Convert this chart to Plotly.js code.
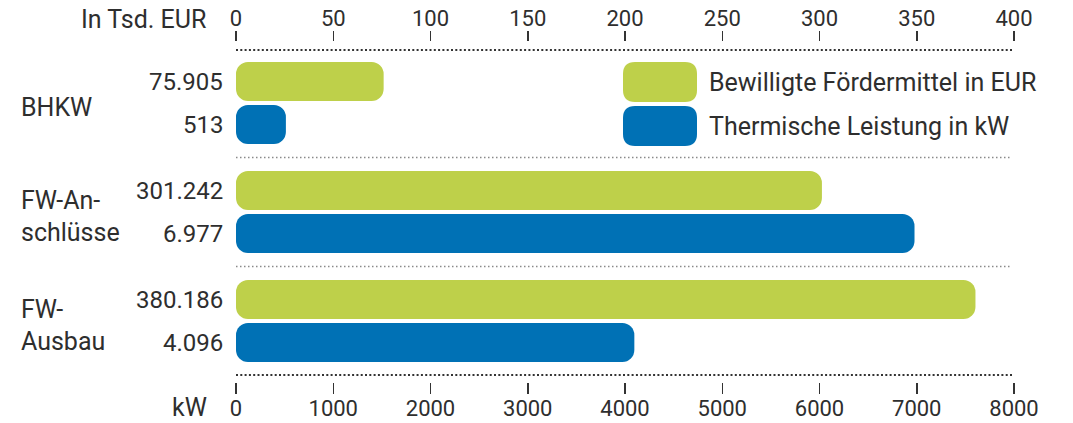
<!DOCTYPE html>
<html>
<head>
<meta charset="utf-8">
<script src="https://cdn.plot.ly/plotly-3.0.1.min.js"></script>
<style>
  html, body { margin: 0; padding: 0; background: #fff; }
  #chart { width: 1073px; height: 423px; }
</style>
</head>
<body>
<div id="chart"></div>
<script>
// Förderprogramm: bewilligte Mittel und thermische Leistung je Maßnahme
const categories = ["BHKW", "FW-An-<br>schlüsse", "FW-<br>Ausbau"];
const foerdermittelEUR = [75905, 301242, 380186];   // in EUR
const leistungKW = [513, 6977, 4096];                // in kW
const eurTicks = [0, 50, 100, 150, 200, 250, 300, 350, 400];
const kwTicks = [0, 1000, 2000, 3000, 4000, 5000, 6000, 7000, 8000];
const seriesNames = ["Bewilligte Fördermittel in EUR", "Thermische Leistung in kW"];
const axisTitleTop = "In Tsd. EUR";
const axisTitleBottom = "kW";

const GREEN = "#bed04a";
const BLUE = "#0071b5";
const TEXT = "#2e2e2e";
const FONT = "Roboto, 'DejaVu Sans', sans-serif";
const FS_TICK = 22;    // axis numbers
const FS_VALUE = 24;   // numbers next to the bars
const FS_WORD = 25;    // category names, legend, axis titles

// plot frame in pixels
const W = 1073, H = 423;
const M = { l: 236, r: 59, t: 42, b: 41 };
const PW = W - M.l - M.r, PH = H - M.t - M.b;
const px = x => (x - M.l) / PW;           // pixel x -> paper
const py = y => (H - M.b - y) / PH;       // pixel y -> paper

// vertical layout: one category = STEP px, bars BAR px high, GAP px apart
const STEP = 109, BAR = 39, GAP = 4;
const pad = (PH - STEP * (categories.length - 1)) / 2;   // px above first / below last group
const yIdx = categories.map((c, i) => i);
const barW = BAR / STEP;
const offGreen = -(BAR + GAP / 2) / STEP, offBlue = (GAP / 2) / STEP;
const radius = 12;

const fmtDE = v => String(v).replace(/\B(?=(\d{3})+(?!\d))/g, ".");
const eurTsd = foerdermittelEUR.map(v => v / 1000);

// an explicit base makes the corner radius apply to both ends of a bar
function roundedBars(vals, xaxis, color, offset) {
  return {
    type: "bar", orientation: "h", y: yIdx, x: vals, base: 0, xaxis: xaxis, yaxis: "y",
    width: barW, offset: offset,
    marker: { color: color, cornerradius: radius, line: { width: 0 } },
    hoverinfo: "skip", showlegend: false
  };
}

const data = [
  roundedBars(eurTsd, "x2", GREEN, offGreen),
  roundedBars(leistungKW, "x", BLUE, offBlue)
];

const annotations = [];
const wordFont = { family: FONT, size: FS_WORD, color: TEXT };
const valueFont = { family: FONT, size: FS_VALUE, color: TEXT };

// value labels
foerdermittelEUR.forEach((v, i) => annotations.push({
  xref: "paper", yref: "y", x: px(225), y: i + offGreen + barW / 2,
  xanchor: "right", yanchor: "middle", showarrow: false,
  text: fmtDE(v), font: valueFont
}));
leistungKW.forEach((v, i) => annotations.push({
  xref: "paper", yref: "y", x: px(225), y: i + offBlue + barW / 2,
  xanchor: "right", yanchor: "middle", showarrow: false,
  text: fmtDE(v), font: valueFont
}));
// category labels, one annotation per line (offsets in px, downwards)
categories.forEach((c, i) => {
  const lines = c.split("<br>");
  const offs = lines.length === 1 ? [7] : [-9, 23];
  lines.forEach((ln, k) => annotations.push({
    xref: "paper", yref: "y", x: px(19), y: i, yshift: -(offs[k] - 3),
    xanchor: "left", yanchor: "middle", showarrow: false,
    text: ln, font: wordFont
  }));
});
// axis titles
annotations.push({
  xref: "paper", yref: "paper", x: px(208), y: py(19),
  xanchor: "right", yanchor: "middle", showarrow: false,
  text: axisTitleTop, font: wordFont
});
annotations.push({
  xref: "paper", yref: "paper", x: px(209), y: py(407),
  xanchor: "right", yanchor: "middle", showarrow: false,
  text: axisTitleBottom, font: wordFont
});
// legend texts
const legendRows = [[62, 102, GREEN], [106, 146, BLUE]];
seriesNames.forEach((n, k) => annotations.push({
  xref: "paper", yref: "paper", x: px(707), y: py((legendRows[k][0] + legendRows[k][1]) / 2),
  xanchor: "left", yanchor: "middle", showarrow: false,
  text: n, font: wordFont
}));

function roundRect(x0, y0, x1, y1, r) {
  const P = (x, y) => px(x) + "," + py(y);
  return "M" + P(x0 + r, y0) + " L" + P(x1 - r, y0) + " Q" + P(x1, y0) + " " + P(x1, y0 + r) +
         " L" + P(x1, y1 - r) + " Q" + P(x1, y1) + " " + P(x1 - r, y1) +
         " L" + P(x0 + r, y1) + " Q" + P(x0, y1) + " " + P(x0, y1 - r) +
         " L" + P(x0, y0 + r) + " Q" + P(x0, y0) + " " + P(x0 + r, y0) + " Z";
}

const shapes = [
  // dotted frame lines above and below the bars
  { type: "line", xref: "paper", yref: "paper", x0: 0, x1: px(1013), y0: py(50), y1: py(50),
    line: { color: "#333", width: 2, dash: "2px,2.3px" } },
  { type: "line", xref: "paper", yref: "paper", x0: 0, x1: px(1013), y0: py(375), y1: py(375),
    line: { color: "#333", width: 2, dash: "2px,2.3px" } },
  // separators between the groups
  ...[0.5, 1.5].map(y => ({
    type: "line", xref: "paper", yref: "y", x0: 0, x1: px(1012), y0: y, y1: y,
    line: { color: "#8a8a8a", width: 1.3, dash: "1.5px,2.5px" }
  })),
  // legend swatches
  ...legendRows.map(r => ({
    type: "path", xref: "paper", yref: "paper", path: roundRect(623, r[0], 697, r[1], 12),
    fillcolor: r[2], line: { width: 0 }
  }))
];

const tickFont = { family: FONT, size: FS_TICK, color: TEXT };
const layout = {
  width: W, height: H,
  margin: M,
  paper_bgcolor: "#fff", plot_bgcolor: "#fff",
  barmode: "overlay",
  showlegend: false,
  font: { family: FONT, size: FS_TICK, color: TEXT },
  xaxis: {
    range: [0, 8000], tickvals: kwTicks, ticktext: kwTicks.map(String),
    side: "bottom", anchor: "y",
    ticks: "outside", ticklen: 11, tickwidth: 1.5, tickcolor: "#333", ticklabelstandoff: -4,
    showgrid: false, zeroline: false, showline: false, tickfont: tickFont, fixedrange: true
  },
  xaxis2: {
    range: [0, 400], tickvals: eurTicks, ticktext: eurTicks.map(String),
    side: "top", overlaying: "x", anchor: "y",
    ticks: "outside", ticklen: 10, tickwidth: 1.5, tickcolor: "#333", ticklabelstandoff: -4,
    showgrid: false, zeroline: false, showline: false, tickfont: tickFont, fixedrange: true
  },
  yaxis: {
    range: [categories.length - 1 + pad / STEP, -pad / STEP],
    showticklabels: false, showgrid: false, zeroline: false,
    showline: false, ticks: "", fixedrange: true
  },
  annotations: annotations,
  shapes: shapes
};

Plotly.newPlot("chart", data, layout, { displayModeBar: false, staticPlot: true });
</script>
</body>
</html>
